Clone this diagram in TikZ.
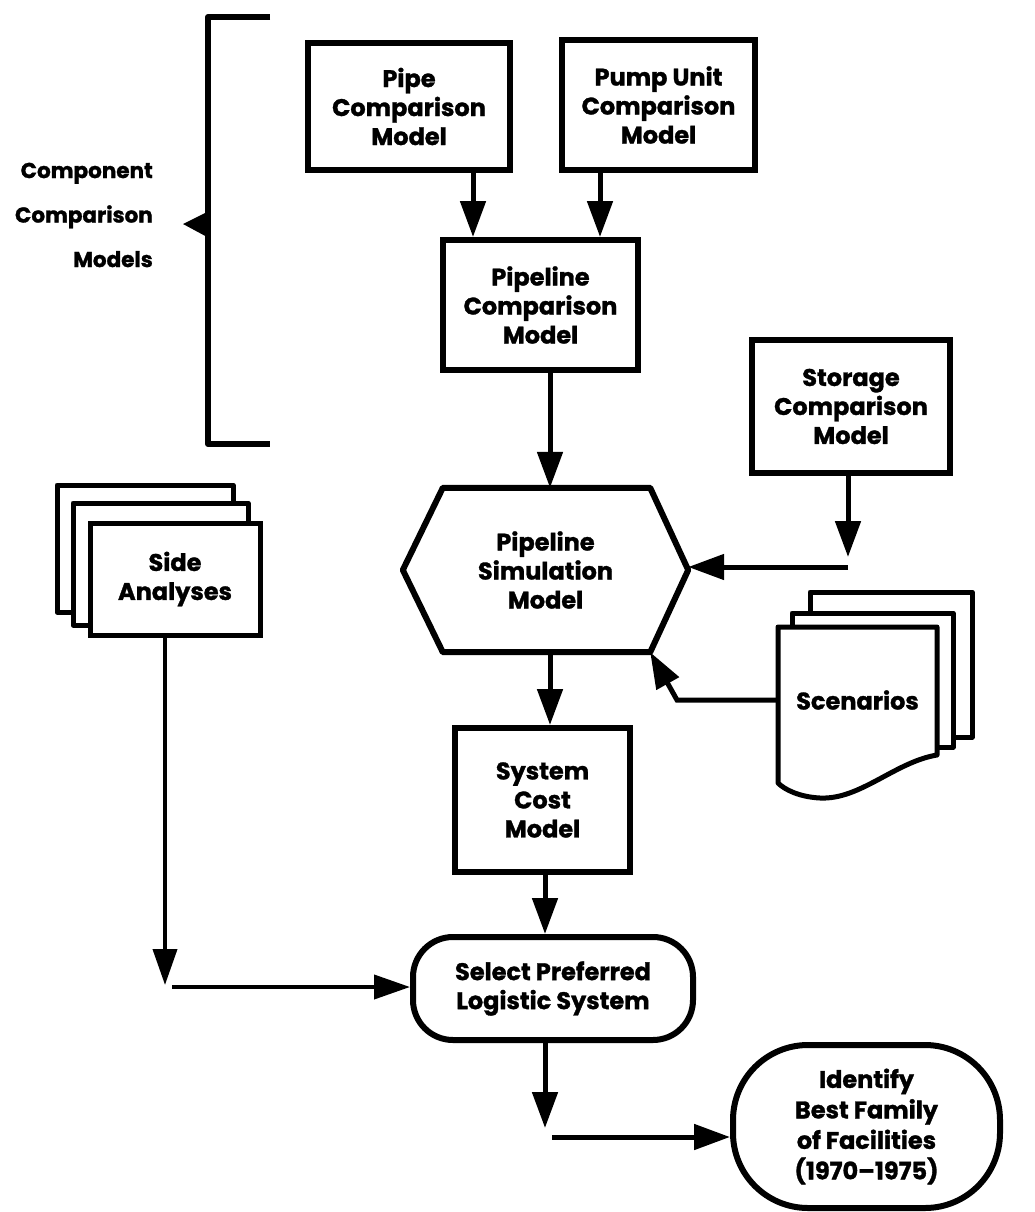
\documentclass[tikz,border=0pt]{standalone}
\usepackage{fontspec}
\setmainfont{Poppins}[BoldFeatures={FakeBold=1.3}]
\usetikzlibrary{arrows.meta,calc}
\tikzset{
  lbl/.style={font=\bfseries\fontsize{24}{29}\selectfont, align=center, inner sep=0pt},
  modelbox/.style={lbl, draw, line width=6pt, fill=white},
  edgeline/.style={line width=6pt, line join=round},
  pageline/.style={line width=5pt, line join=round, fill=white},
  conn/.style={line width=5pt, -{Triangle[length=36pt,width=25pt]}},
  thinconn/.style={line width=4pt, -{Triangle[length=36pt,width=24pt]}}
}
\begin{document}
\begin{tikzpicture}[x=1pt,y=-1pt]
\fill[white] (0,0) rectangle (1034,1212);
\useasboundingbox (0,0) rectangle (1034,1212);

% bracket and its label
\draw[edgeline] (270,17) -- (208,17) -- (208,444) -- (270,444);
\fill (209,211) -- (183,224) -- (209,238) -- cycle;
\node[lbl, align=right, anchor=east, font=\bfseries\fontsize{21.5}{44.5}\selectfont] (ccm) at (153,215) {Component\\Comparison\\Models};

% model boxes
\node[modelbox, minimum width=202pt, minimum height=127pt] (pipe) at (409,106.5) {Pipe\\Comparison\\Model};
\node[modelbox, minimum width=193pt, minimum height=130pt] (pump) at (658.5,105) {Pump Unit\\Comparison\\Model};
\node[modelbox, minimum width=195pt, minimum height=130pt] (pcm) at (540.5,305) {Pipeline\\Comparison\\Model};
\node[modelbox, minimum width=198pt, minimum height=133pt] (stor) at (851,406.5) {Storage\\Comparison\\Model};
\node[modelbox, minimum width=175pt, minimum height=144pt] (cost) at (542.5,800) {System\\Cost\\Model};

% hexagon
\node[lbl, minimum width=285pt, minimum height=164pt] (hex) at (545.5,570) {Pipeline\\Simulation\\Model};
\draw[edgeline] (hex.west) -- ([xshift=40pt]hex.north west) -- ([xshift=-38pt]hex.north east)
  -- (hex.east) -- ([xshift=-38pt]hex.south east) -- ([xshift=40pt]hex.south west) -- cycle;
\coordinate (hexSE) at ([xshift=-38pt]hex.south east);

% side analyses stack
\draw[pageline] (57,485) rectangle (233,612);
\draw[pageline] (73,503) rectangle (248,625);
\node[modelbox, line width=5pt, minimum width=170pt, minimum height=112pt] (side) at (175,579) {Side\\Analyses};

% scenarios stack
\draw[pageline] (810,592) rectangle (972,737);
\draw[pageline] (792,613) rectangle (953,747);
\draw[pageline] (778,627) -- (937,627) -- (937,755)
  .. controls (895,762) and (860,800) .. (820,798)
  .. controls (800,797) and (785,790) .. (778,783) -- cycle;
\node[lbl, minimum width=159pt] (scen) at (857.5,700) {Scenarios};

% terminals
\node[modelbox, rounded corners=40pt, minimum width=280pt, minimum height=103pt] (sel) at (553,988.5) {Select Preferred\\Logistic System};
\node[modelbox, rounded corners=75pt, minimum width=267pt, minimum height=163pt, font=\bfseries\fontsize{24}{30.5}\selectfont] (ident) at (866.5,1126.5) {Identify\\Best Family\\of Facilities\\(1970--1975)};

% connectors
\coordinate (a1) at ([xshift=64pt]pipe.south);
\draw[conn] (a1) -- (a1 |- pcm.north);
\coordinate (a2) at ([xshift=-58.5pt]pump.south);
\draw[conn] (a2) -- (a2 |- pcm.north);
\coordinate (a3) at ([xshift=9.5pt]pcm.south);
\draw[conn] (a3) -- (a3 |- hex.north);
\coordinate (s1) at ([xshift=-3pt]stor.south);
\coordinate (s2) at (848,557);
\draw[conn] (s1) -- (s2);
\coordinate (s3) at (848,567);
\draw[conn] (s3) -- (s3 -| hex.east);
\coordinate (bend) at (677,700);
\draw[conn] (scen.west) -- (bend) -- (hexSE);
\coordinate (a4) at ([xshift=4.5pt]hex.south);
\draw[conn] (a4) -- (a4 |- cost.north);
\coordinate (c1) at ([xshift=2.5pt]cost.south);
\draw[conn] (c1) -- (c1 |- sel.north);
\coordinate (sa) at (165,985);
\draw[thinconn] (side.south -| sa) -- (sa);
\coordinate (sb) at (172,987);
\draw[thinconn] (sb) -- (sb -| sel.west);
\coordinate (d1) at ([xshift=-8pt]sel.south);
\coordinate (d2) at (545,1128);
\draw[conn] (d1) -- (d2);
\coordinate (d3) at (552,1137);
\draw[conn] (d3) -- (d3 -| ident.west);
\end{tikzpicture}
\end{document}
